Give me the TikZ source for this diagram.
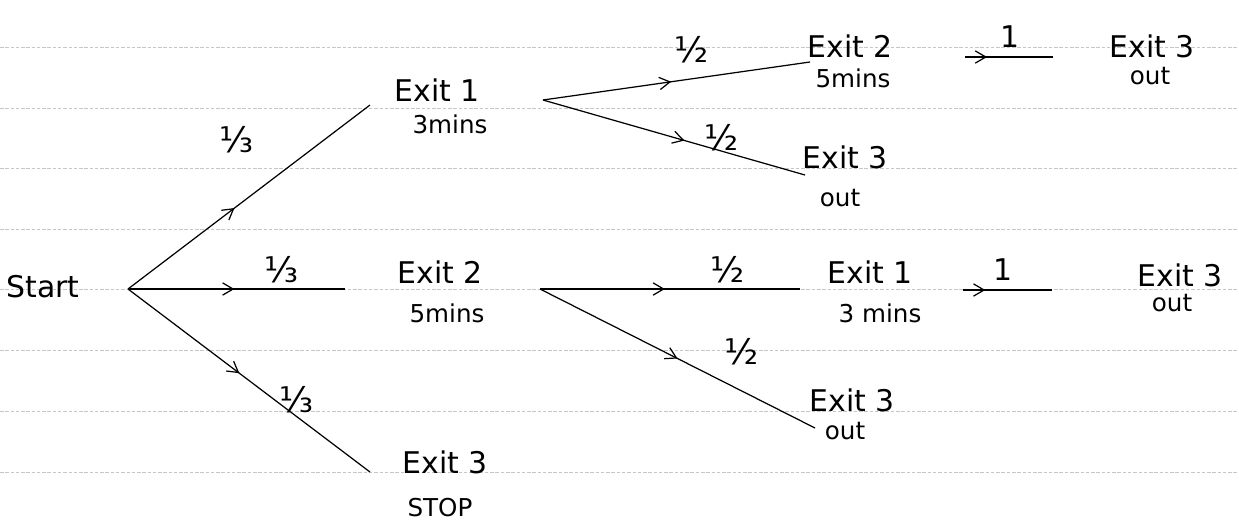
\documentclass[tikz,border=0pt]{standalone}
\usepackage{fontspec}
\setmainfont{DejaVu Sans}
\usetikzlibrary{arrows.meta,decorations.markings}
\tikzset{
  rule/.style={gray!45,line width=0.5pt,dash pattern=on 2pt off 1pt},
  branch/.style={black,line width=0.7pt},
  midarrow/.style={branch,postaction={decorate},decoration={markings,
     mark=at position #1 with {\arrow{Straight Barb[length=6pt,width=7pt,line width=0.7pt]}}}},
  lbl/.style={font=\fontsize{17}{17}\selectfont,inner sep=0pt},
  sub/.style={font=\fontsize{14}{14}\selectfont,inner sep=0pt},
  frac/.style={font=\fontsize{20}{20}\selectfont,inner sep=0pt}
}
\begin{document}
\begin{tikzpicture}[x=0.02cm,y=-0.02cm]
\useasboundingbox (0,0) rectangle (1239,522);
% ruled paper lines
\foreach \yy in {47,108,168,229,289,350,411,472}
  \draw[rule] (0,\yy) -- (1239,\yy);

% nodes
\node[lbl] (start) at (43,287) {Start};
\coordinate (s) at (128,289);

\coordinate (e1) at (370,105);
\node[lbl] (exit1) at (437,90) {Exit 1};
\node[sub] (t1) at (450,124) {3mins};
\coordinate (b1) at (543,100);

\coordinate (e2) at (345,289);
\node[lbl] (exit2) at (440,272) {Exit 2};
\node[sub] (t2) at (447,313) {5mins};
\coordinate (b2) at (540,289);

\coordinate (e3) at (370,472);
\node[lbl] (exit3) at (445,462) {Exit 3};
\node[sub] (stop) at (440,508) {STOP};

% from Exit 1
\coordinate (u1) at (810,62);
\node[lbl] (x12) at (850,46) {Exit 2};
\node[sub] (t12) at (853,78) {5mins};
\coordinate (p1a) at (965,57);
\coordinate (p1b) at (1053,57);
\node[lbl] (x123) at (1152,46) {Exit 3};
\node[sub] (o123) at (1150,76) {out};

\coordinate (l1) at (805,175);
\node[lbl] (x13) at (845,157) {Exit 3};
\node[sub] (o13) at (840,198) {out};

% from Exit 2
\coordinate (u2) at (800,289);
\node[lbl] (x21) at (870,272) {Exit 1};
\node[sub] (t21) at (880,313) {3 mins};
\coordinate (p2a) at (963,290);
\coordinate (p2b) at (1052,290);
\node[lbl] (x213) at (1180,275) {Exit 3};
\node[sub] (o213) at (1172,303) {out};

\coordinate (l2) at (815,428);
\node[lbl] (x23) at (852,400) {Exit 3};
\node[sub] (o23) at (845,431) {out};

% connectors
\draw[midarrow=0.44] (s) -- (e1);
\draw[midarrow=0.49] (s) -- (e2);
\draw[midarrow=0.46] (s) -- (e3);
\draw[midarrow=0.48] (b1) -- (u1);
\draw[midarrow=0.54] (b1) -- (l1);
\draw[midarrow=0.25] (p1a) -- (p1b);
\draw[midarrow=0.48] (b2) -- (u2);
\draw[midarrow=0.5] (b2) -- (l2);
\draw[midarrow=0.25] (p2a) -- (p2b);

% probabilities
\node[frac] at (237,140) {⅓};
\node[frac] at (282,270) {⅓};
\node[frac] at (297,400) {⅓};
\node[frac] at (692,50) {½};
\node[frac] at (722,138) {½};
\node[frac] at (728,270) {½};
\node[frac] at (742,352) {½};
\node[lbl] at (1010,37) {1};
\node[lbl] at (1003,270) {1};
\end{tikzpicture}
\end{document}
